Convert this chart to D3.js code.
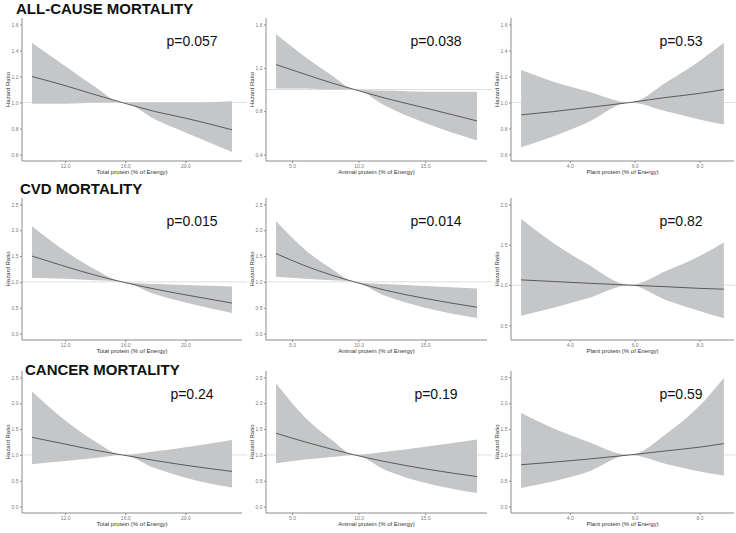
<!DOCTYPE html>
<html>
<head>
<meta charset="utf-8">
<title>Protein intake and mortality</title>
<script src="https://cdn.jsdelivr.net/npm/d3@7"></script>
<style>
  body { margin: 0; background: #fff; }
  text { font-family: Arial, "Liberation Sans", Helvetica, sans-serif; }
</style>
</head>
<body>
<script>
var width = 736
var height = 533

// row titles, x axis titles
var outcomes = ["ALL-CAUSE MORTALITY", "CVD MORTALITY", "CANCER MORTALITY"]
var exposures = ["Total protein (% of Energy)", "Animal protein (% of Energy)", "Plant protein (% of Energy)"]

// x values (% of energy)
var xTotal  = [9.8, 12, 14, 15.8, 18, 20, 23.1]
var xAnimal = [3.8, 6, 8, 9.7, 12, 15, 18.9]
var xPlant  = [2.5, 3.5, 4.5, 5.85, 7, 8, 8.75]

var xTicksTotal  = [12, 16, 20]
var xTicksAnimal = [5, 10, 15]
var xTicksPlant  = [4, 6, 8]

// p values per row
var pAll    = ["p=0.057", "p=0.038", "p=0.53"]
var pCvd    = ["p=0.015", "p=0.014", "p=0.82"]
var pCancer = ["p=0.24", "p=0.19", "p=0.59"]

// hazard ratio, lower and upper CI
var allTotalHR = [1.20, 1.13, 1.06, 1.00, 0.93, 0.88, 0.79]
var allTotalLo = [0.99, 0.99, 1.00, 1.00, 0.87, 0.77, 0.62]
var allTotalHi = [1.46, 1.28, 1.12, 1.00, 1.00, 1.00, 1.01]

var allAnimalHR = [1.23, 1.14, 1.06, 1.00, 0.92, 0.83, 0.71]
var allAnimalLo = [1.01, 1.01, 1.00, 1.00, 0.85, 0.69, 0.53]
var allAnimalHi = [1.51, 1.30, 1.13, 1.00, 0.99, 0.98, 0.98]

var allPlantHR = [0.905, 0.93, 0.96, 1.00, 1.04, 1.07, 1.10]
var allPlantLo = [0.655, 0.74, 0.84, 1.00, 0.93, 0.87, 0.83]
var allPlantHi = [1.25, 1.16, 1.09, 1.00, 1.16, 1.32, 1.46]

var cvdTotalHR = [1.50, 1.30, 1.13, 1.00, 0.86, 0.75, 0.59]
var cvdTotalLo = [1.08, 1.06, 1.03, 1.00, 0.76, 0.60, 0.40]
var cvdTotalHi = [2.08, 1.60, 1.24, 1.00, 0.96, 0.94, 0.91]

var cvdAnimalHR = [1.55, 1.31, 1.13, 1.00, 0.84, 0.68, 0.51]
var cvdAnimalLo = [1.10, 1.06, 1.03, 1.00, 0.73, 0.50, 0.30]
var cvdAnimalHi = [2.18, 1.62, 1.25, 1.00, 0.96, 0.92, 0.87]

var cvdPlantHR = [1.065, 1.045, 1.025, 1.00, 0.98, 0.96, 0.95]
var cvdPlantLo = [0.62, 0.72, 0.83, 1.00, 0.81, 0.68, 0.59]
var cvdPlantHi = [1.82, 1.52, 1.27, 1.00, 1.18, 1.36, 1.53]

var cancerTotalHR = [1.34, 1.21, 1.09, 1.00, 0.89, 0.80, 0.68]
var cancerTotalLo = [0.82, 0.88, 0.94, 1.00, 0.74, 0.56, 0.37]
var cancerTotalHi = [2.23, 1.67, 1.26, 1.00, 1.07, 1.15, 1.29]

var cancerAnimalHR = [1.42, 1.25, 1.11, 1.00, 0.87, 0.73, 0.58]
var cancerAnimalLo = [0.84, 0.91, 0.96, 1.00, 0.71, 0.46, 0.26]
var cancerAnimalHi = [2.39, 1.72, 1.29, 1.00, 1.06, 1.16, 1.30]

var cancerPlantHR = [0.81, 0.86, 0.915, 1.00, 1.08, 1.15, 1.22]
var cancerPlantLo = [0.36, 0.49, 0.66, 1.00, 0.82, 0.68, 0.60]
var cancerPlantHi = [1.81, 1.51, 1.27, 1.00, 1.42, 1.95, 2.49]

// y axis ticks and limits per panel
var yTicksNarrow = [0.6, 0.8, 1.0, 1.2, 1.4, 1.6]
var yTicksWide   = [0.4, 0.8, 1.2, 1.6]
var yTicksHigh   = [0.0, 0.5, 1.0, 1.5, 2.0, 2.5]
var yTicksMid    = [0.5, 1.0, 1.5, 2.0]

var yLimNarrow = [0.55, 1.65]
var yLimWide   = [0.34, 1.66]
var yLimHigh   = [-0.125, 2.625]
var yLimMid    = [0.32, 2.08]

// panels built from the arrays above
var xs = [xTotal, xAnimal, xPlant]
var xTicks = [xTicksTotal, xTicksAnimal, xTicksPlant]
var pvals = [pAll, pCvd, pCancer]
var series = [
  [[allTotalHR, allTotalLo, allTotalHi], [allAnimalHR, allAnimalLo, allAnimalHi], [allPlantHR, allPlantLo, allPlantHi]],
  [[cvdTotalHR, cvdTotalLo, cvdTotalHi], [cvdAnimalHR, cvdAnimalLo, cvdAnimalHi], [cvdPlantHR, cvdPlantLo, cvdPlantHi]],
  [[cancerTotalHR, cancerTotalLo, cancerTotalHi], [cancerAnimalHR, cancerAnimalLo, cancerAnimalHi], [cancerPlantHR, cancerPlantLo, cancerPlantHi]]
]
var yLims = [[yLimNarrow, yLimWide, yLimNarrow], [yLimHigh, yLimHigh, yLimMid], [yLimHigh, yLimHigh, yLimHigh]]
var yTicks = [[yTicksNarrow, yTicksWide, yTicksNarrow], [yTicksHigh, yTicksHigh, yTicksMid], [yTicksHigh, yTicksHigh, yTicksHigh]]

// layout
var colLeft = [22, 266, 511]
var colWidth = [220, 221, 223]
var rowTop = [18, 198, 371]
var rowHeight = [143, 142, 142]
var titlePos = [[16, 14], [20, 194], [25, 375]]

var svg = d3.select("body").append("svg")
  .attr("width", width)
  .attr("height", height)

svg.append("rect").attr("width", width).attr("height", height).attr("fill", "#fff")

outcomes.forEach(function(title, r) {
  for (var c = 0; c < 3; c++) {
    drawPanel(r, c)
  }
  svg.append("text")
    .attr("x", titlePos[r][0])
    .attr("y", titlePos[r][1])
    .attr("font-size", 15)
    .attr("font-weight", "bold")
    .attr("fill", "#111")
    .text(title)
})

function drawPanel(r, c) {
  var x0 = colLeft[c], y0 = rowTop[r], w = colWidth[c], h = rowHeight[r]
  var xv = xs[c]
  var s = series[r][c]
  var rows = xv.map(function(d, i) { return {x: d, hr: s[0][i], lo: s[1][i], hi: s[2][i]} })

  var ext = d3.extent(xv)
  var pad = (ext[1] - ext[0]) * 0.05
  var x = d3.scaleLinear().domain([ext[0] - pad, ext[1] + pad]).range([0, w])
  var y = d3.scaleLinear().domain(yLims[r][c]).range([h, 0])

  var g = svg.append("g").attr("transform", "translate(" + x0 + "," + y0 + ")")

  // reference line at HR = 1
  g.append("line")
    .attr("x1", 0).attr("x2", w + 5)
    .attr("y1", y(1)).attr("y2", y(1))
    .attr("stroke", "#dedede")
    .attr("stroke-width", 1)

  g.append("path")
    .datum(rows)
    .attr("fill", "#c5c6c8")
    .attr("d", d3.area()
      .x(function(d) { return x(d.x) })
      .y0(function(d) { return y(d.lo) })
      .y1(function(d) { return y(d.hi) })
      .curve(d3.curveMonotoneX))

  g.append("path")
    .datum(rows)
    .attr("fill", "none")
    .attr("stroke", "#4d4d4d")
    .attr("stroke-width", 0.9)
    .attr("d", d3.line()
      .x(function(d) { return x(d.x) })
      .y(function(d) { return y(d.hr) })
      .curve(d3.curveMonotoneX))

  var yAxis = g.append("g")
    .call(d3.axisLeft(y).tickValues(yTicks[r][c]).tickFormat(d3.format(".1f")).tickSize(2).tickPadding(1.5))
  var xAxis = g.append("g")
    .attr("transform", "translate(0," + h + ")")
    .call(d3.axisBottom(x).tickValues(xTicks[c]).tickFormat(d3.format(".1f")).tickSize(2).tickPadding(1))

  ;[yAxis, xAxis].forEach(function(a) {
    a.select(".domain").attr("stroke", "#8c8c8c").attr("stroke-width", 1)
    a.selectAll(".tick line").attr("stroke", "#8c8c8c")
    a.selectAll(".tick text").attr("font-size", 5).attr("fill", "#7a7a7a")
      .style("font-family", "Arial, 'Liberation Sans', sans-serif")
    a.attr("font-family", null)
  })
  yAxis.select(".domain").attr("d", "M0," + h + "V0")
  xAxis.select(".domain").attr("d", "M0,0H" + w)

  g.append("text")
    .attr("x", w / 2)
    .attr("y", h + 13)
    .attr("text-anchor", "middle")
    .attr("font-size", 6)
    .attr("fill", "#333")
    .text(exposures[c])

  g.append("text")
    .attr("transform", "translate(-12," + (h / 2) + ") rotate(-90)")
    .attr("text-anchor", "middle")
    .attr("font-size", 6)
    .attr("fill", "#333")
    .text("Hazard Ratio")

  g.append("text")
    .attr("x", 170)
    .attr("y", 28)
    .attr("text-anchor", "middle")
    .attr("font-size", 14)
    .attr("fill", "#111")
    .text(pvals[r][c])
}
</script>
</body>
</html>
